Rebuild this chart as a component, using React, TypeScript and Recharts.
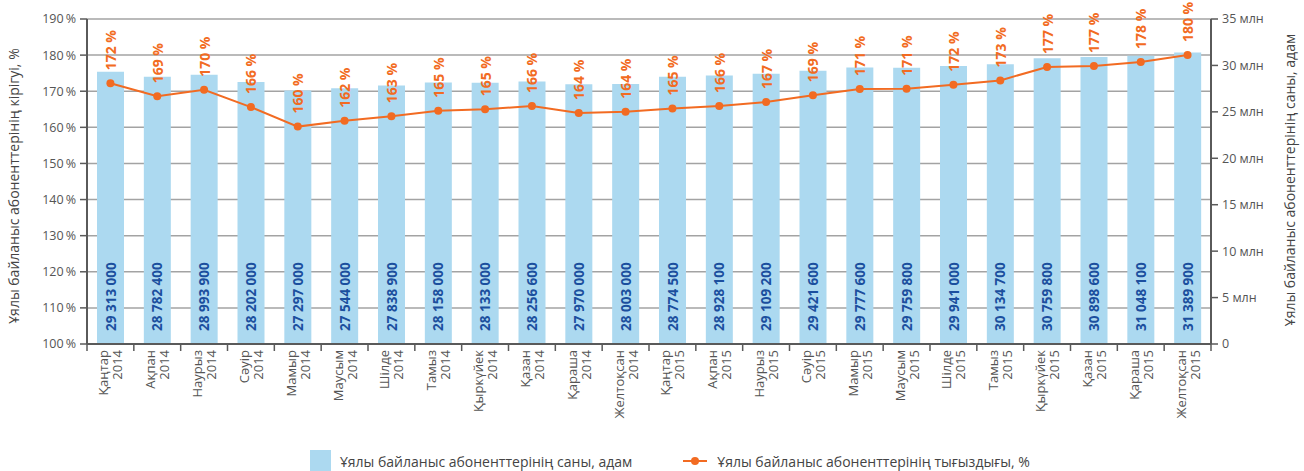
import { ComposedChart, Bar, Line, XAxis, YAxis, CartesianGrid, LabelList } from "recharts";

const monthNames = [
  "Қаңтар", "Ақпан", "Наурыз", "Сәуір", "Мамыр", "Маусым",
  "Шілде", "Тамыз", "Қыркүйек", "Қазан", "Қараша", "Желтоқсан",
];
const years = ["2014", "2015"];

// subscribers, people
const subscribers = [
  29313000, 28782400, 28993900, 28202000, 27297000, 27544000, 27838900, 28158000, 28133000, 28256600, 27970000, 28003000,
  28774500, 28928100, 29109200, 29421600, 29777600, 29759800, 29941000, 30134700, 30759800, 30898600, 31048100, 31389900,
];
// penetration, %
const density = [
  172.2, 168.6, 170.4, 165.6, 160.2, 161.8, 163.1, 164.6, 165.0, 165.9, 164.0, 164.3,
  165.2, 165.9, 167.0, 168.9, 170.6, 170.7, 171.8, 173.0, 176.7, 177.0, 178.1, 180.0,
];

const pctTicks = [100, 110, 120, 130, 140, 150, 160, 170, 180, 190];
const mlnTicks = [0, 5e6, 10e6, 15e6, 20e6, 25e6, 30e6, 35e6];

const data = subscribers.map((s, i) => ({
  month: monthNames[i % 12],
  year: years[Math.floor(i / 12)],
  key: `${monthNames[i % 12]} ${years[Math.floor(i / 12)]}`,
  subscribers: s,
  density: density[i],
}));

const FONT = "'Open Sans', sans-serif";
const BAR = "#acd9f0";
const ORANGE = "#f26b22";
const AXIS = "#5a5a5a";
const TXT = "#555";

const fmtNum = (v: number) => String(v).replace(/\B(?=(\d{3})+(?!\d))/g, " ");

const HALF_BAND = (1211 - 87) / 24 / 2;

function MonthTick(props: any) {
  const { x, y, payload, index } = props;
  const d = data[payload.index ?? index];
  return (
    <g>
      <line x1={x - HALF_BAND} x2={x - HALF_BAND} y1={y} y2={y + 7} stroke={AXIS} strokeWidth={1.5} />
      {d && d === data[data.length - 1] ? (
        <line x1={x + HALF_BAND} x2={x + HALF_BAND} y1={y} y2={y + 7} stroke={AXIS} strokeWidth={1.5} />
      ) : null}
      <g transform={`translate(${x},${y + 6}) rotate(-90)`}>
        <text textAnchor="end" fontFamily={FONT} fontSize={13} fill={TXT}>
          <tspan x={0} y={-2}>{d?.month}</tspan>
          <tspan x={0} y={12}>{d?.year}</tspan>
        </text>
      </g>
    </g>
  );
}

function BarValue(props: any) {
  const { x, y, width, height, value } = props;
  const cx = x + width / 2;
  const by = y + height - 13;
  return (
    <text
      transform={`translate(${cx},${by}) rotate(-90)`}
      textAnchor="start"
      dominantBaseline="central"
      fontFamily={FONT}
      fontWeight="bold"
      fontSize={13.5}
      fill="#1b4f9e"
    >
      {fmtNum(value)}
    </text>
  );
}

function PctValue(props: any) {
  const { x, y, value } = props;
  return (
    <text
      transform={`translate(${x},${y - 13}) rotate(-90)`}
      textAnchor="start"
      dominantBaseline="central"
      fontFamily={FONT}
      fontWeight="bold"
      fontSize={14}
      fill={ORANGE}
    >
      {`${Math.round(value)} %`}
    </text>
  );
}

function AxisTitle({ cx, cy, text }: { cx: number; cy: number; text: string }) {
  return (
    <text
      transform={`translate(${cx},${cy}) rotate(-90)`}
      textAnchor="middle"
      dominantBaseline="central"
      fontFamily={FONT}
      fontSize={14}
      fill="#444"
    >
      {text}
    </text>
  );
}

export default function App() {
  return (
    <div style={{ position: "absolute", left: 0, top: 0, width: 1304, height: 471, background: "#fff" }}>
      <ComposedChart width={1304} height={471} data={data} margin={{ top: 19, right: 0, bottom: 0, left: 0 }} barCategoryGap={0}>
        <CartesianGrid yAxisId="pct" vertical={false} stroke="#a3a3a3" strokeWidth={1.5} />
        <XAxis
          dataKey="key"
          height={127}
          interval={0}
          tickLine={false}
          tickSize={0}
          tickMargin={0}
          axisLine={{ stroke: AXIS, strokeWidth: 2 }}
          tick={<MonthTick />}
        />
        <YAxis
          yAxisId="pct"
          orientation="left"
          width={87}
          domain={[100, 190]}
          ticks={pctTicks}
          interval={0}
          tickFormatter={(v) => `${v}\u2009%`}
          tick={{ fontFamily: FONT, fontSize: 12.5, fill: TXT }}
          tickLine={{ stroke: AXIS, strokeWidth: 1.5 }}
          tickSize={7}
          tickMargin={4}
          axisLine={{ stroke: AXIS, strokeWidth: 2 }}
          label={{
            content: () => <AxisTitle cx={13} cy={186} text="Ұялы байланыс абоненттерінің кірігуі, %" />,
          }}
        />
        <YAxis
          yAxisId="mln"
          orientation="right"
          width={93}
          domain={[0, 35e6]}
          ticks={mlnTicks}
          interval={0}
          tickFormatter={(v) => (v === 0 ? "0" : `${v / 1e6} млн`)}
          tick={{ fontFamily: FONT, fontSize: 12.5, fill: TXT }}
          tickLine={{ stroke: AXIS, strokeWidth: 1.5 }}
          tickSize={7}
          tickMargin={4}
          axisLine={{ stroke: AXIS, strokeWidth: 2 }}
          label={{
            content: () => <AxisTitle cx={1289} cy={180} text="Ұялы байланыс абоненттерінің саны, адам" />,
          }}
        />
        <Bar yAxisId="mln" dataKey="subscribers" fill={BAR} barSize={27} isAnimationActive={false}>
          <LabelList dataKey="subscribers" content={<BarValue />} />
        </Bar>
        <Line
          yAxisId="pct"
          dataKey="density"
          stroke={ORANGE}
          strokeWidth={2}
          dot={{ r: 4, fill: ORANGE, stroke: ORANGE, strokeWidth: 0 }}
          isAnimationActive={false}
        >
          <LabelList dataKey="density" content={<PctValue />} />
        </Line>
      </ComposedChart>
      <div
        style={{
          position: "absolute",
          top: 450,
          left: 310,
          display: "flex",
          alignItems: "center",
          fontFamily: FONT,
          fontSize: 14,
          color: "#444",
          whiteSpace: "nowrap",
        }}
      >
        <span style={{ display: "inline-block", width: 21, height: 22, background: BAR, marginRight: 9 }} />
        <span>Ұялы байланыс абоненттерінің саны, адам</span>
        <svg width={24} height={10} style={{ marginLeft: 51, marginRight: 10 }}>
          <line x1={0} x2={24} y1={5} y2={5} stroke={ORANGE} strokeWidth={2} />
          <circle cx={12} cy={5} r={4} fill={ORANGE} />
        </svg>
        <span>Ұялы байланыс абоненттерінің тығыздығы, %</span>
      </div>
    </div>
  );
}
